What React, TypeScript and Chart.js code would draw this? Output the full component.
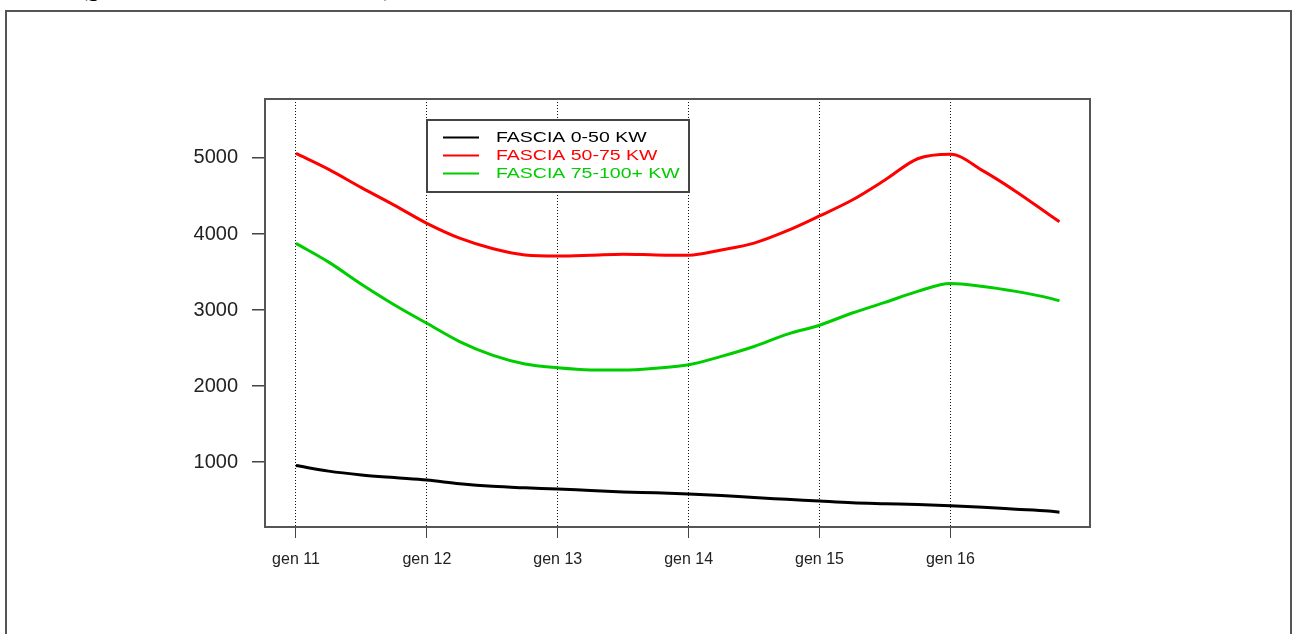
import React, { useEffect, useRef } from "react";
import { Chart, registerables } from "chart.js";

Chart.register(...registerables);

// month index counted from gen 2011 (0) to nov 2016 (70)
const months = [0, 3, 6, 9, 12, 15, 18, 21, 24, 27, 30, 33, 36, 39, 42, 45, 48, 51, 54, 57, 60, 63, 66, 69, 70];
const tickMonths = [0, 12, 24, 36, 48, 60];
const tickLabels = ["gen 11", "gen 12", "gen 13", "gen 14", "gen 15", "gen 16"];
const yTicks = [1000, 2000, 3000, 4000, 5000];

const seriesNames = ["FASCIA 0-50 KW", "FASCIA 50-75 KW", "FASCIA 75-100+ KW"];
const seriesColors = ["#000000", "#ff0000", "#00cd00"];

const fascia0_50 = [955, 880, 830, 795, 763, 715, 680, 660, 645, 625, 607, 595, 580, 560, 532, 510, 487, 465, 452, 440, 425, 405, 380, 355, 340];
const fascia50_75 = [5060, 4850, 4610, 4380, 4140, 3945, 3810, 3725, 3710, 3720, 3735, 3725, 3720, 3790, 3880, 4040, 4237, 4447, 4710, 4990, 5050, 4830, 4560, 4260, 4160];
const fascia75_100 = [3877, 3630, 3340, 3070, 2825, 2585, 2407, 2290, 2240, 2212, 2210, 2235, 2280, 2390, 2520, 2680, 2800, 2960, 3100, 3245, 3350, 3310, 3245, 3160, 3120];

const seriesValues = [fascia0_50, fascia50_75, fascia75_100];

const FONT = '"Liberation Sans", Arial, Helvetica, sans-serif';

const boxPlugin = {
  id: "plotBox",
  afterDatasetsDraw(chart: any) {
    const { ctx, chartArea } = chart;
    const { left, top, right, bottom } = chartArea;
    ctx.save();
    ctx.strokeStyle = "#555";
    ctx.lineWidth = 2;
    ctx.strokeRect(left, top, right - left, bottom - top);
    ctx.restore();
  },
};

const legendPlugin = {
  id: "rLegend",
  afterDraw(chart: any) {
    const { ctx, chartArea } = chart;
    const bx = chartArea.left + 162;
    const by = chartArea.top + 21;
    const bw = 262;
    const bh = 72;
    ctx.save();
    ctx.fillStyle = "#ffffff";
    ctx.fillRect(bx, by, bw, bh);
    ctx.strokeStyle = "#444";
    ctx.lineWidth = 2;
    ctx.strokeRect(bx, by, bw, bh);
    ctx.font = "15px " + FONT;
    ctx.textBaseline = "middle";
    ctx.textAlign = "left";
    seriesNames.forEach((name, i) => {
      const ry = by + 17.5 + i * 18;
      ctx.strokeStyle = seriesColors[i];
      ctx.lineWidth = 2;
      ctx.beginPath();
      ctx.moveTo(bx + 16, ry);
      ctx.lineTo(bx + 52, ry);
      ctx.stroke();
      ctx.fillStyle = seriesColors[i];
      ctx.save();
      ctx.translate(bx + 69, ry + 0.5);
      ctx.scale(1.3, 1);
      ctx.fillText(name, 0, 0);
      ctx.restore();
    });
    ctx.restore();
  },
};

export default function App() {
  const canvasRef = useRef<HTMLCanvasElement | null>(null);

  useEffect(() => {
    if (!canvasRef.current) return;
    const chart = new Chart(canvasRef.current, {
      type: "line",
      data: {
        datasets: seriesNames.map((name, i) => ({
          label: name,
          data: months.map((m, j) => ({ x: m, y: seriesValues[i][j] })),
          borderColor: seriesColors[i],
          backgroundColor: seriesColors[i],
          borderWidth: 3,
          pointRadius: 0,
          fill: false,
          cubicInterpolationMode: "monotone" as const,
        })),
      },
      options: {
        responsive: false,
        animation: false,
        events: [],
        layout: { padding: { top: 99, right: 207, left: 0, bottom: 0 } },
        plugins: {
          legend: { display: false },
          tooltip: { enabled: false },
          title: { display: false },
        },
        scales: {
          x: {
            type: "linear",
            min: -2.84,
            max: 72.8,
            afterBuildTicks: (s: any) => {
              s.ticks = tickMonths.map((v) => ({ value: v }));
            },
            afterFit: (s: any) => {
              s.height = 107;
            },
            ticks: {
              autoSkip: false,
              maxRotation: 0,
              padding: 12,
              color: "#222",
              font: { family: FONT, size: 16 },
              callback: (v: any) => {
                const k = tickMonths.indexOf(Number(v));
                return k >= 0 ? tickLabels[k] : "";
              },
            },
            grid: {
              display: true,
              drawOnChartArea: true,
              drawTicks: true,
              tickLength: 11,
              color: "#111",
              lineWidth: 1,
              tickColor: "#444",
            },
            border: { display: false, dash: [1, 2] },
          },
          y: {
            type: "linear",
            min: 145,
            max: 5776,
            afterBuildTicks: (s: any) => {
              s.ticks = yTicks.map((v) => ({ value: v }));
            },
            afterFit: (s: any) => {
              s.width = 265;
            },
            ticks: {
              padding: 14,
              color: "#222",
              font: { family: FONT, size: 20 },
              callback: (v: any) => String(v),
            },
            grid: {
              display: true,
              drawOnChartArea: false,
              drawTicks: true,
              tickLength: 13,
              color: "#444",
              lineWidth: 1.5,
            },
            border: { display: false },
          },
        },
      },
      plugins: [boxPlugin, legendPlugin],
    });
    return () => chart.destroy();
  }, []);

  return (
    <div
      style={{
        position: "fixed",
        left: 0,
        top: 0,
        width: 1297,
        height: 634,
        overflow: "hidden",
        background: "#ffffff",
      }}
    >
      <div
        style={{
          position: "absolute",
          left: 80,
          top: -23,
          font: 'bold 23px "Liberation Serif", "Times New Roman", serif',
          lineHeight: "23px",
          whiteSpace: "nowrap",
          color: "#000",
        }}
      >
        (gennaio 2011 - novembre 2016)
      </div>
      <div
        style={{
          position: "absolute",
          left: 5,
          top: 10,
          width: 1287,
          height: 700,
          border: "2px solid #555",
          boxSizing: "border-box",
        }}
      />
      <canvas
        ref={canvasRef}
        width={1297}
        height={634}
        style={{ position: "absolute", left: 0, top: 0, width: 1297, height: 634 }}
      />
    </div>
  );
}
